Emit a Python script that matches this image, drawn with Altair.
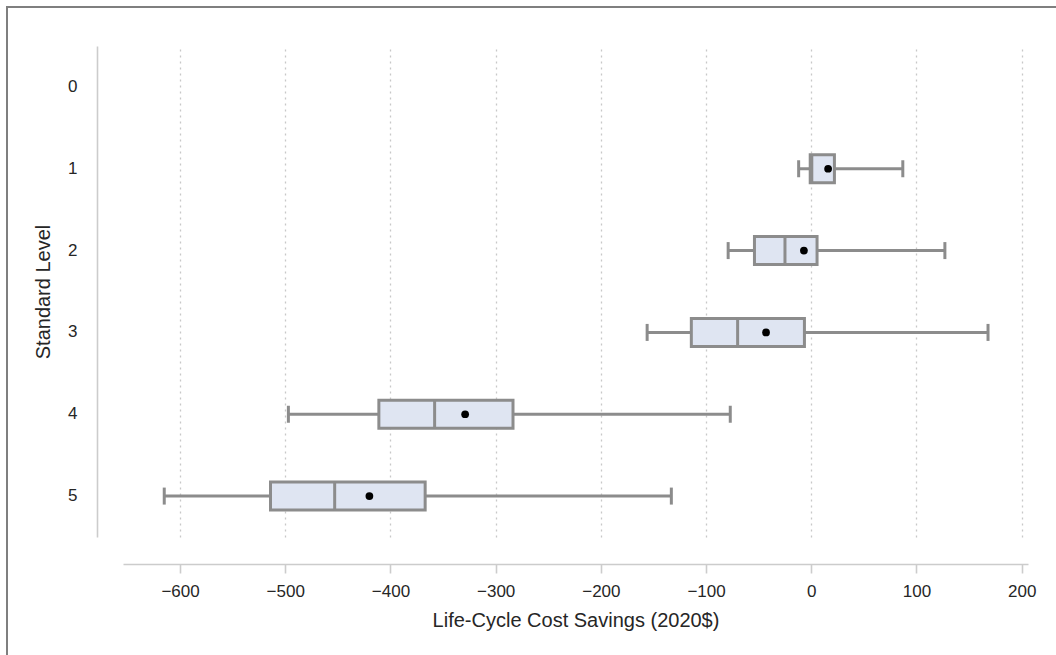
import altair as alt
import pandas as pd

levels = ["1", "2", "3", "4", "5"]
all_levels = ["0", "1", "2", "3", "4", "5"]
whisker_low = [-12, -79, -156, -497, -615]
q1 = [-1, -54, -114, -411, -514]
median = [0.5, -25, -70, -358, -453]
q3 = [22, 5.5, -6.5, -283.5, -367]
whisker_high = [87, 127, 168, -77, -133]
mean = [16, -7, -43, -329, -420]
x_ticks = [-600, -500, -400, -300, -200, -100, 0, 100, 200]

df = pd.DataFrame({
    "level": levels, "lo": whisker_low, "q1": q1, "med": median,
    "q3": q3, "hi": whisker_high, "mean": mean,
})

FONT = "Liberation Sans"
GRAY = "#8c8c8c"
FILL = "#dfe5f2"

xscale = alt.Scale(domain=[-654.2, 206.0], nice=False, zero=False)
yscale = alt.Scale(domain=all_levels, paddingInner=0, paddingOuter=0)

x_axis = alt.Axis(
    values=x_ticks, title="Life-Cycle Cost Savings (2020$)", offset=27,
    grid=True, gridDash=[2, 4], gridColor="#c8c8c8", gridWidth=1.3,
    domainColor="#cccccc", domainWidth=1.6, tickColor="#cccccc", tickWidth=1.6,
    tickSize=9, labelPadding=10, labelFontSize=17, labelFont=FONT,
    labelColor="#262626", titleFont=FONT, titleFontSize=20,
    titleFontWeight="normal", titleColor="#262626", titlePadding=11,
)
y_axis = alt.Axis(
    title="Standard Level", offset=26, grid=False, ticks=False,
    domainColor="#cccccc", domainWidth=1.6, labelPadding=20,
    labelFontSize=17, labelFont=FONT, labelColor="#262626",
    titleFont=FONT, titleFontSize=20, titleFontWeight="normal",
    titleColor="#262626", titlePadding=14,
)

base = alt.Chart(df)
y_enc = alt.Y("level:N", scale=yscale, axis=y_axis, sort=all_levels)

whisker = base.mark_rule(color=GRAY, strokeWidth=3).encode(
    x=alt.X("lo:Q", scale=xscale, axis=x_axis), x2="hi:Q", y=y_enc)
cap_lo = base.mark_tick(color=GRAY, size=17, thickness=3, opacity=1).encode(
    x="lo:Q", y="level:N")
cap_hi = base.mark_tick(color=GRAY, size=17, thickness=3, opacity=1).encode(
    x="hi:Q", y="level:N")
box = base.mark_bar(size=28, fill=FILL, stroke=GRAY, strokeWidth=3).encode(
    x="q1:Q", x2="q3:Q", y="level:N")
med = base.mark_tick(color=GRAY, size=28, thickness=3, opacity=1).encode(
    x="med:Q", y="level:N")
mn = base.mark_circle(color="black", size=60, opacity=1).encode(
    x="mean:Q", y="level:N")

frame_df = pd.DataFrame({"k": [0]})
frame_top = alt.Chart(frame_df).mark_rule(color="#7f7f7f", strokeWidth=2).encode(
    x=alt.value(-116), x2=alt.value(940), y=alt.value(-39))
frame_left = alt.Chart(frame_df).mark_rule(color="#7f7f7f", strokeWidth=2).encode(
    x=alt.value(-116), y=alt.value(-40), y2=alt.value(620))

chart = alt.layer(whisker, cap_lo, cap_hi, box, med, mn, frame_top, frame_left).properties(
    width=905, height=491,
    background="white",
    autosize=alt.AutoSizeParams(type="none"),
    padding={"left": 123, "top": 46, "right": 28, "bottom": 118},
).configure_view(stroke="transparent", strokeWidth=0)

chart.save("out.html", embed_options={"renderer": "svg", "actions": False})
